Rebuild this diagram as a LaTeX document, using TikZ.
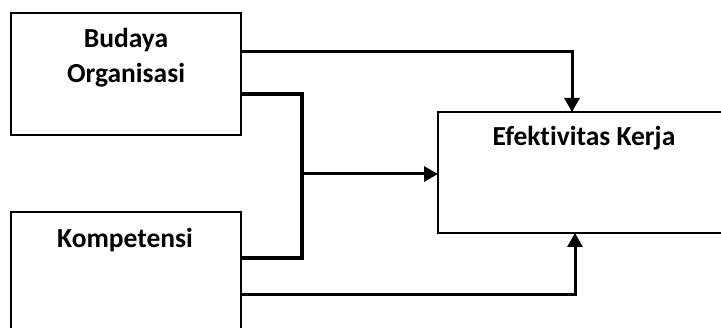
\documentclass[tikz,border=0pt]{standalone}
\usepackage{fontspec}
\setmainfont{Carlito}[Ligatures=NoCommon]
\usetikzlibrary{arrows.meta}
\begin{document}
\begin{tikzpicture}[x=1pt,y=-1pt,
  box/.style={draw=black,line width=2pt,inner sep=0pt,outer sep=0pt,anchor=north west,fill=white},
  lbl/.style={font=\fontsize{27.5}{35}\selectfont\bfseries,align=center,inner sep=0pt,anchor=base},
  thin/.style={line width=3pt,line join=miter},
  thick/.style={line width=4.5pt,line join=miter},
  tip/.style={-{Triangle[length=14pt,width=15pt]}}
]
\useasboundingbox (0,0) rectangle (721,328);
\clip (0,0) rectangle (721,328);
\node[box,minimum width=230pt,minimum height=122pt] (A) at (11,13) {};
\node[box,minimum width=230pt,minimum height=140pt] (B) at (11,212) {};
\node[box,minimum width=300pt,minimum height=121pt] (C) at (438,112) {};
\node[lbl] (tA) at (126,83) {Budaya\\Organisasi};
\node[lbl] (tB) at (125,248) {Kompetensi};
\node[lbl] (tC) at (584,146) {Efektivitas Kerja};
\coordinate (k1) at (572,52);
\coordinate (j1) at (302,94);
\coordinate (j2) at (302,258);
\coordinate (m) at (302,174);
\coordinate (k3) at (575,295);
\draw[thin,tip] (A.east |- k1) -- (k1) -- (C.north -| k1);
\draw[thick] (A.east |- j1) -- (j1) -- (j2) -- (B.east |- j2);
\draw[thin,tip] (m) -- (C.west |- m);
\draw[thin,tip] (B.east |- k3) -- (k3) -- (C.south -| k3);
\end{tikzpicture}
\end{document}
